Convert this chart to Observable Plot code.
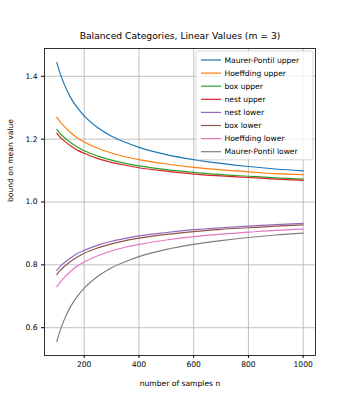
<!DOCTYPE html>
<html>
<head>
<meta charset="utf-8">
<script src="https://cdn.jsdelivr.net/npm/d3@7"></script>
<script src="https://cdn.jsdelivr.net/npm/@observablehq/plot@0.6"></script>
<style>
  html, body { margin: 0; padding: 0; background: #fff; }
  #chart { width: 350px; height: 400px; }
</style>
</head>
<body>
<div id="chart"></div>
<script>
const titleText = "Balanced Categories, Linear Values (m = 3)";
const xLabel = "number of samples n";
const yLabel = "bound on mean value";

const ns = [100, 110, 125, 150, 175, 200, 250, 300, 350, 400, 500, 600, 700, 800, 900, 1000];

const seriesNames = ["Maurer-Pontil upper", "Hoeffding upper", "box upper", "nest upper",
                     "nest lower", "box lower", "Hoeffding lower", "Maurer-Pontil lower"];
const seriesColors = ["#1f77b4", "#ff7f0e", "#2ca02c", "#d62728",
                      "#9467bd", "#8c564b", "#e377c2", "#7f7f7f"];

const mpUpper   = [1.444, 1.415, 1.379, 1.333, 1.300, 1.274, 1.236, 1.209, 1.190, 1.174, 1.151, 1.135, 1.123, 1.113, 1.105, 1.099];
const hoefUpper = [1.270, 1.257, 1.242, 1.221, 1.204, 1.191, 1.171, 1.156, 1.144, 1.135, 1.121, 1.110, 1.102, 1.096, 1.090, 1.087];
const boxUpper  = [1.231, 1.220, 1.207, 1.189, 1.175, 1.163, 1.146, 1.133, 1.123, 1.115, 1.103, 1.094, 1.087, 1.082, 1.077, 1.073];
const nestUpper = [1.219, 1.208, 1.196, 1.179, 1.165, 1.155, 1.138, 1.126, 1.117, 1.109, 1.098, 1.089, 1.083, 1.078, 1.073, 1.069];
const nestLower = [0.782, 0.793, 0.805, 0.822, 0.836, 0.846, 0.863, 0.875, 0.884, 0.892, 0.903, 0.912, 0.918, 0.923, 0.928, 0.932];
const boxLower  = [0.769, 0.780, 0.793, 0.811, 0.825, 0.837, 0.854, 0.867, 0.877, 0.885, 0.897, 0.906, 0.913, 0.918, 0.923, 0.927];
const hoefLower = [0.730, 0.743, 0.758, 0.779, 0.796, 0.809, 0.829, 0.844, 0.856, 0.865, 0.879, 0.890, 0.898, 0.904, 0.910, 0.914];
const mpLower   = [0.556, 0.585, 0.621, 0.667, 0.700, 0.726, 0.764, 0.791, 0.810, 0.826, 0.849, 0.865, 0.877, 0.887, 0.895, 0.901];

const seriesValues = [mpUpper, hoefUpper, boxUpper, nestUpper, nestLower, boxLower, hoefLower, mpLower];

const xTicks = [200, 400, 600, 800, 1000];
const yTicks = [0.6, 0.8, 1.0, 1.2, 1.4];

const W = 350, H = 400;
const mL = 44, mR = 35, mT = 48, mB = 45;
const font = "DejaVu Sans";

const xMin = d3.min(ns), xMax = d3.max(ns);
const allY = seriesValues.flat();
const yMin = d3.min(allY), yMax = d3.max(allY);
const xPad = (xMax - xMin) * 0.05, yPad = (yMax - yMin) * 0.05;

const lineMarks = seriesValues.map((vals, i) =>
  Plot.line(ns.map((n, j) => ({n, v: vals[j]})), {
    x: "n", y: "v", stroke: seriesColors[i], strokeWidth: 1.2, curve: "monotone-x"
  })
);

const plot = Plot.plot({
  width: W, height: H,
  marginLeft: mL, marginRight: mR, marginTop: mT, marginBottom: mB,
  style: {fontFamily: font, fontSize: "7.6px", color: "#000", background: "#fff"},
  x: {domain: [xMin - xPad, xMax + xPad], label: null},
  y: {domain: [yMin - yPad, yMax + yPad], label: null},
  marks: [
    Plot.gridX(xTicks, {stroke: "#b0b0b0", strokeOpacity: 1, strokeWidth: 0.8}),
    Plot.gridY(yTicks, {stroke: "#b0b0b0", strokeOpacity: 1, strokeWidth: 0.8}),
    ...lineMarks,
    Plot.frame({stroke: "#000", strokeWidth: 0.8}),
    Plot.axisX({ticks: xTicks, tickSize: 3, tickPadding: 3, tickFormat: d3.format("d"), label: null, fontSize: 7.6}),
    Plot.axisY({ticks: yTicks, tickSize: 3, tickPadding: 4, tickFormat: d3.format(".1f"), label: null, fontSize: 7.6}),
    Plot.text([titleText], {frameAnchor: "top", lineAnchor: "middle", dy: -12, fontSize: 9.2, fill: "#000"}),
    Plot.text([xLabel], {frameAnchor: "bottom", lineAnchor: "middle", dy: 28, fontSize: 7.6, fill: "#000"}),
    Plot.text([yLabel], {frameAnchor: "left", lineAnchor: "middle", dx: -34, rotate: -90, fontSize: 7.6, fill: "#000"})
  ]
});

document.getElementById("chart").appendChild(plot);

// Legend (upper right, inside the frame)
const svg = d3.select(plot);
const lg = svg.append("g")
  .attr("font-family", font).attr("font-size", "7.6px")
  .attr("text-anchor", "start");
const lx = 196, ly = 51, lw = 117, rowH = 13.1;
const lh = rowH * seriesNames.length + 4;
lg.append("rect")
  .attr("x", lx).attr("y", ly).attr("width", lw).attr("height", lh).attr("rx", 2)
  .style("fill", "#ffffff").style("fill-opacity", 0.8)
  .style("stroke", "#cccccc").style("stroke-width", "0.8px");
seriesNames.forEach((name, i) => {
  const cy = ly + 9 + i * rowH;
  lg.append("line").attr("x1", lx + 5).attr("x2", lx + 25).attr("y1", cy).attr("y2", cy)
    .style("stroke", seriesColors[i]).style("stroke-width", "1.2px");
  lg.append("text").attr("x", lx + 28.5).attr("y", cy).attr("dy", "0.35em")
    .style("text-anchor", "start").style("fill", "#000").text(name);
});
</script>
</body>
</html>
